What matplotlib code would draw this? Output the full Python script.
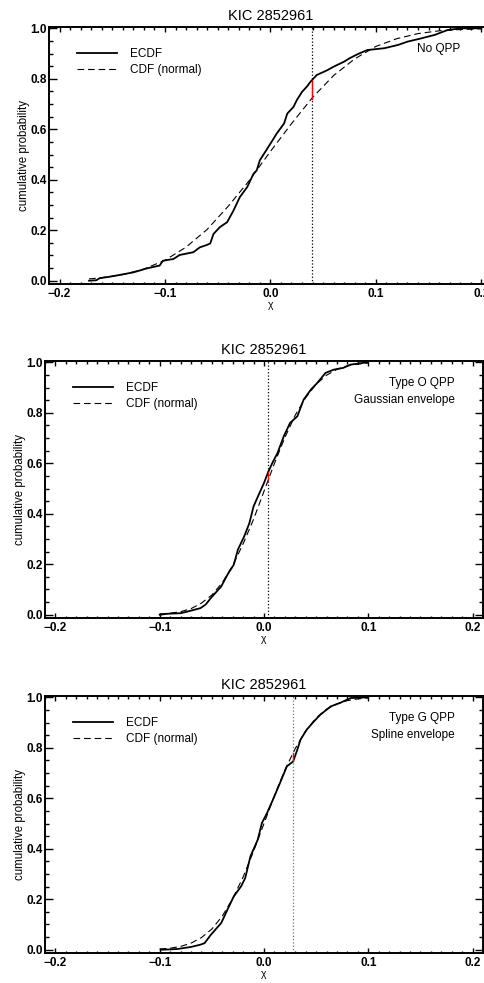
import numpy as np
import matplotlib.pyplot as plt
from matplotlib.ticker import MultipleLocator

plt.rcParams['font.family'] = ['Liberation Sans', 'DejaVu Sans']

titulo = 'KIC 2852961'

# Panel 1: sin QPP
ecdf1_x = [-0.172, -0.165, -0.162, -0.152, -0.130, -0.117, -0.105, -0.102, -0.092, -0.086, -0.073,
           -0.067, -0.060, -0.057, -0.054, -0.048, -0.041, -0.035, -0.029, -0.022, -0.016,
           -0.013, -0.010, -0.003, 0.002, 0.006, 0.013, 0.016, 0.022, 0.025, 0.030,
           0.035, 0.038, 0.044, 0.054, 0.060, 0.070, 0.075, 0.083, 0.092, 0.108,
           0.121, 0.130, 0.143, 0.156, 0.168, 0.181, 0.200]
ecdf1_y = [0.000, 0.002, 0.010, 0.016, 0.033, 0.049, 0.060, 0.079, 0.086, 0.102, 0.113,
           0.132, 0.142, 0.148, 0.185, 0.212, 0.232, 0.278, 0.331, 0.371, 0.424,
           0.437, 0.477, 0.523, 0.556, 0.583, 0.623, 0.662, 0.689, 0.715, 0.748,
           0.771, 0.788, 0.815, 0.834, 0.848, 0.868, 0.881, 0.898, 0.914, 0.921,
           0.934, 0.947, 0.960, 0.974, 0.993, 1.000, 1.000]
cdf1_x = [-0.172, -0.16, -0.14, -0.12, -0.10, -0.08, -0.06, -0.04, -0.02, 0.00,
          0.02, 0.04, 0.06, 0.08, 0.10, 0.12, 0.14, 0.16, 0.18, 0.20]
cdf1_y = [0.007, 0.012, 0.024, 0.046, 0.081, 0.133, 0.203, 0.295, 0.397, 0.512,
          0.622, 0.726, 0.813, 0.879, 0.928, 0.959, 0.979, 0.990, 0.995, 0.998]
chi1 = 0.039

# Panel 2: QPP tipo O, envolvente gaussiana
ecdf2_x = [-0.100, -0.092, -0.080, -0.073, -0.061, -0.056, -0.051, -0.041, -0.035, -0.029,
           -0.025, -0.019, -0.014, -0.010, -0.005, 0.000, 0.004, 0.008, 0.013, 0.019,
           0.025, 0.032, 0.038, 0.045, 0.051, 0.059, 0.067, 0.076, 0.083, 0.099]
ecdf2_y = [0.000, 0.004, 0.006, 0.013, 0.026, 0.040, 0.066, 0.112, 0.159, 0.198,
           0.258, 0.310, 0.363, 0.429, 0.476, 0.522, 0.565, 0.601, 0.641, 0.707,
           0.760, 0.786, 0.852, 0.892, 0.918, 0.958, 0.971, 0.978, 0.991, 1.000]
cdf2_x = [-0.10, -0.09, -0.08, -0.07, -0.06, -0.05, -0.04, -0.03, -0.02, -0.01, 0.00,
          0.01, 0.02, 0.03, 0.04, 0.05, 0.06, 0.07, 0.08, 0.09, 0.10]
cdf2_y = [0.003, 0.006, 0.012, 0.024, 0.046, 0.078, 0.127, 0.195, 0.281, 0.378, 0.489,
          0.599, 0.702, 0.791, 0.860, 0.913, 0.949, 0.972, 0.986, 0.993, 0.997]
chi2 = 0.004

# Panel 3: QPP tipo G, envolvente spline
ecdf3_x = [-0.099, -0.092, -0.083, -0.070, -0.061, -0.057, -0.051, -0.041, -0.035, -0.029,
           -0.022, -0.018, -0.013, -0.006, -0.002, 0.003, 0.010, 0.016, 0.022, 0.028,
           0.032, 0.035, 0.041, 0.048, 0.054, 0.064, 0.073, 0.083, 0.099]
ecdf3_y = [0.000, 0.001, 0.003, 0.011, 0.020, 0.026, 0.059, 0.106, 0.159, 0.211,
           0.251, 0.284, 0.370, 0.436, 0.502, 0.542, 0.608, 0.667, 0.727, 0.746,
           0.793, 0.832, 0.872, 0.905, 0.931, 0.964, 0.978, 0.997, 1.000]
cdf3_x = [-0.10, -0.09, -0.08, -0.07, -0.06, -0.05, -0.04, -0.03, -0.02, -0.01, 0.00,
          0.01, 0.02, 0.03, 0.04, 0.05, 0.06, 0.07, 0.08, 0.09, 0.10]
cdf3_y = [0.003, 0.006, 0.013, 0.026, 0.048, 0.082, 0.133, 0.203, 0.288, 0.390, 0.500,
          0.610, 0.712, 0.797, 0.867, 0.918, 0.953, 0.974, 0.987, 0.994, 0.997]
chi3 = 0.028

paneles = [
    (ecdf1_x, ecdf1_y, cdf1_x, cdf1_y, chi1, 'No QPP', [0.101, 0.7111, 0.913, 0.2614], 'black', 0.928),
    (ecdf2_x, ecdf2_y, cdf2_x, cdf2_y, chi2, 'Type O QPP\nGaussian envelope', [0.0928, 0.3713, 0.903, 0.2614], 'black', 0.936),
    (ecdf3_x, ecdf3_y, cdf3_x, cdf3_y, chi3, 'Type G QPP\nSpline envelope', [0.0928, 0.0305, 0.903, 0.2614], '0.45', 0.936),
]

fig = plt.figure(figsize=(4.85, 9.83), dpi=100)

for ex, ey, cx, cy, chi, nota, pos, col_v, xnota in paneles:
    ax = fig.add_axes(pos)
    ax.plot(ex, ey, 'k-', lw=1.3, label='ECDF')
    ax.plot(cx, cy, 'k--', lw=0.8, dashes=(6, 3.5), label='CDF (normal)')
    ax.axvline(chi, color=col_v, ls=':', lw=0.9)
    # diferencia maxima (KS) en rojo
    e = np.interp(chi, ex, ey)
    c = np.interp(chi, cx, cy)
    ax.plot([chi, chi], [e, c], color='red', lw=1.0)

    ax.set_xlim(-0.21, 0.21)
    ax.set_ylim(-0.013, 1.005)
    ax.xaxis.set_major_locator(MultipleLocator(0.1))
    ax.xaxis.set_minor_locator(MultipleLocator(0.01))
    ax.yaxis.set_major_locator(MultipleLocator(0.2))
    ax.yaxis.set_minor_locator(MultipleLocator(0.05))
    ax.xaxis.set_major_formatter(lambda v, p: f'{v:.1f}'.replace('-', '\u2212'))
    ax.yaxis.set_major_formatter(lambda v, p: f'{v:.1f}')
    ax.tick_params(which='both', direction='in', top=True, right=True, width=1.0,
                   labelsize=8.5)
    ax.tick_params(axis='x', which='major', length=3.6, pad=3)
    ax.tick_params(axis='x', which='minor', length=1.8)
    ax.tick_params(axis='y', which='major', length=5.8, pad=1.5)
    ax.tick_params(axis='y', which='minor', length=3.0)
    for lab in ax.get_xticklabels() + ax.get_yticklabels():
        lab.set_fontweight('bold')
    for s in ax.spines.values():
        s.set_linewidth(1.4)

    ax.set_title(titulo, fontsize=10.5, pad=5)
    ax.set_ylabel('cumulative probability', fontsize=8.3, labelpad=0)
    ax.set_xlabel('\u03c7', fontsize=7.5, labelpad=0)
    ax.legend(loc='upper left', bbox_to_anchor=(0.04, 0.96), frameon=False,
              fontsize=8.5, handlelength=3.4, handletextpad=1.1, labelspacing=0.35)
    ax.text(xnota, 0.937, nota, transform=ax.transAxes, ha='right', va='top',
            fontsize=8.5, linespacing=1.5)

plt.savefig('out.png', dpi=100)
